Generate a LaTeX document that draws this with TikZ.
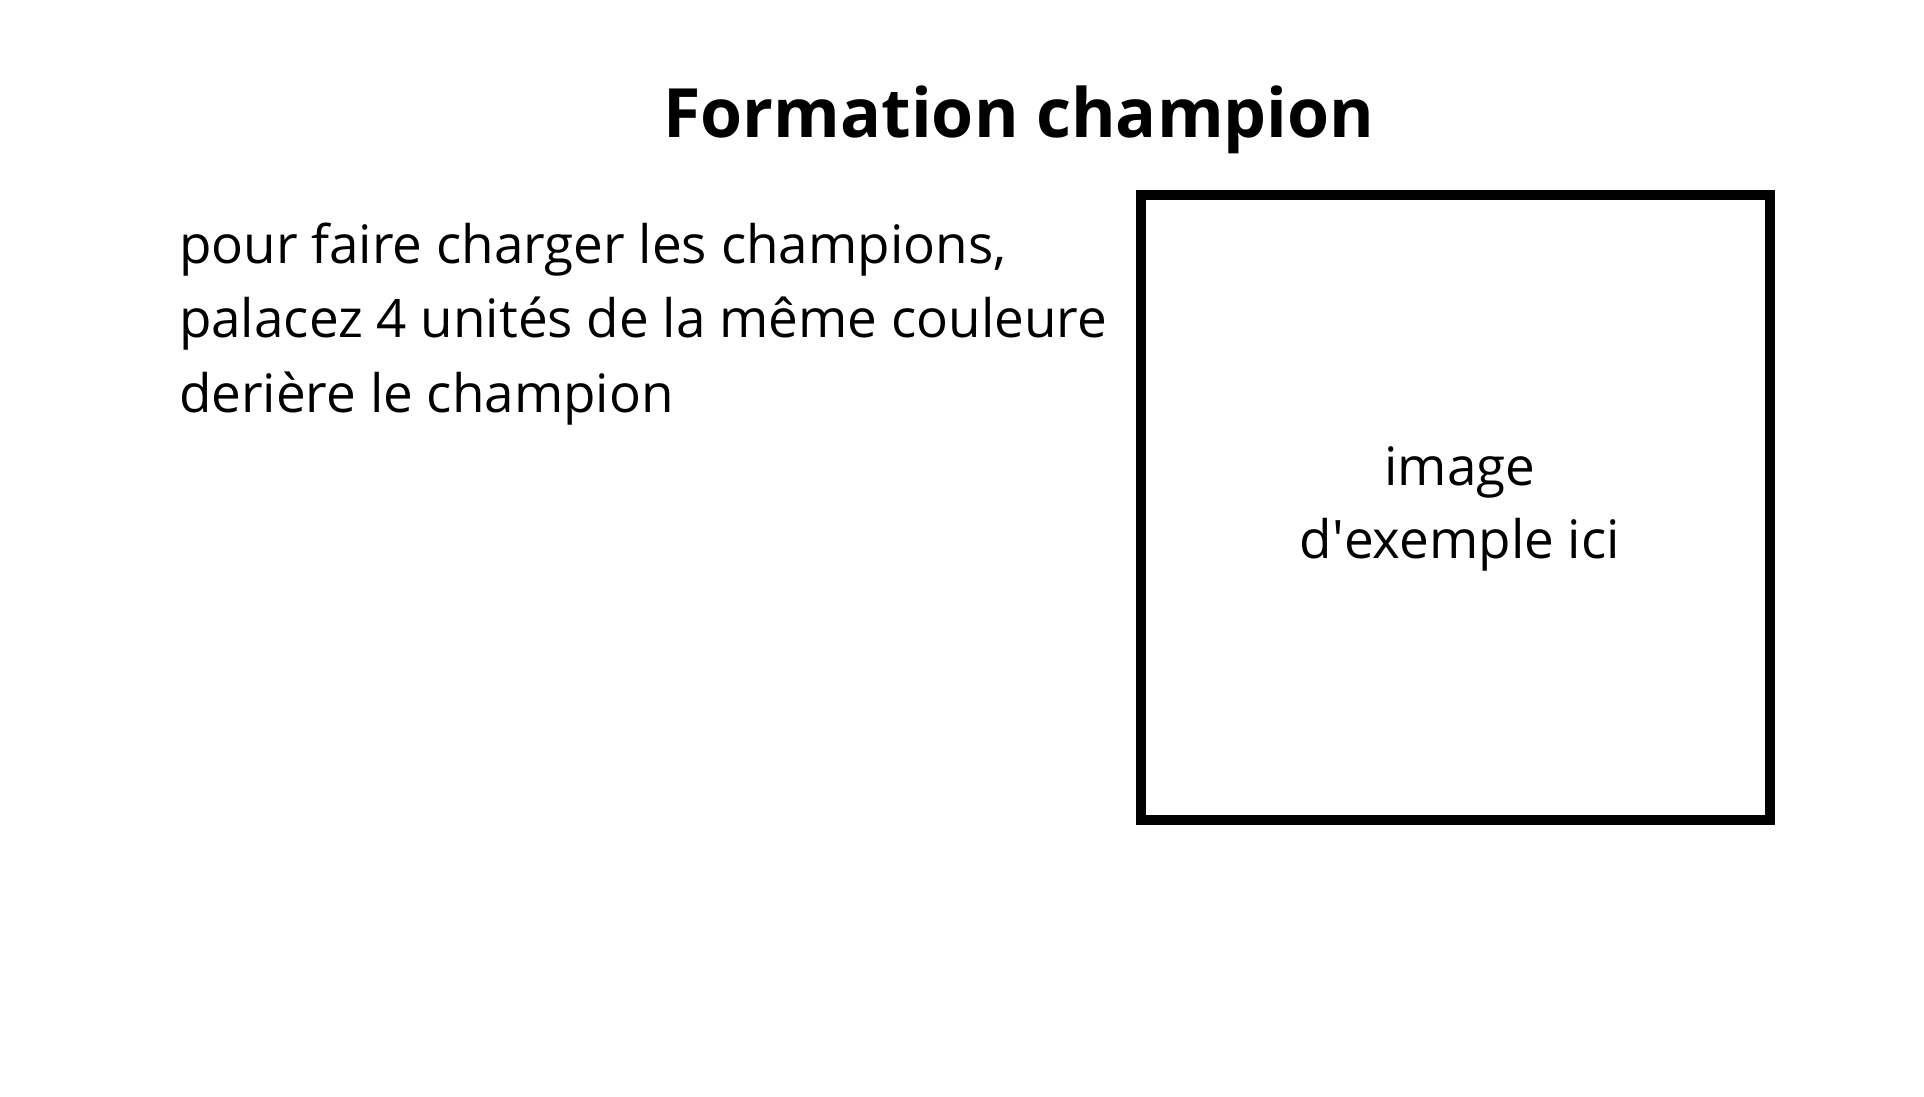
\documentclass[tikz,border=0pt]{standalone}
\usepackage{fontspec}
\setmainfont{Open Sans}
\begin{document}
\begin{tikzpicture}[x=1pt,y=-1pt,
  txt/.style={inner sep=0pt,outer sep=0pt,font=\fontsize{53}{64}\selectfont},
  ttl/.style={inner sep=0pt,outer sep=0pt,font=\fontsize{68}{80}\selectfont\bfseries},
  frame/.style={draw=black,line width=10pt,minimum width=629pt,minimum height=625pt,inner sep=0pt}]
\useasboundingbox[fill=white] (0,0) rectangle (1924,1096);
\node[ttl,anchor=base] (title) at (1019,137) {Formation champion};
\node[txt,anchor=base west] (l1) at (179,263) {pour faire charger les champions,};
\node[txt,anchor=base west] (l2) at (179,337) {palacez 4 unités de la même couleure};
\node[txt,anchor=base west] (l3) at (179,412) {derière le champion};
\node[frame] (box) at (1455.5,507) {};
\node[txt,anchor=base] (i1) at (1460,485) {image};
\node[txt,anchor=base] (i2) at (1460,558) {d\textquotesingle exemple ici};
\end{tikzpicture}
\end{document}
